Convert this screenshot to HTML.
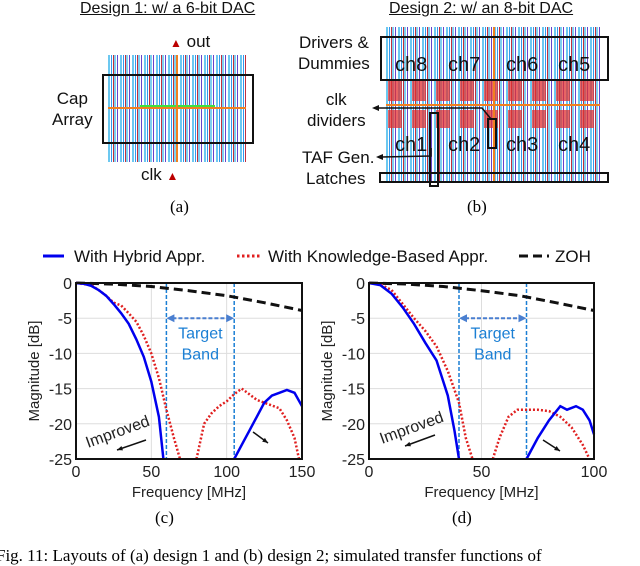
<!DOCTYPE html>
<html><head><meta charset="utf-8"><style>
body{margin:0;background:#fff;width:640px;height:562px;overflow:hidden;position:relative;font-family:"Liberation Sans",sans-serif}
.lay{position:absolute;background:repeating-linear-gradient(90deg,#6cc8f0 0 2px,#fff 2px 3px,#3399ee 3px 4px,#fff 4px 5px,#c03040 5px 6px,#7fd0f0 6px 8px,#fff 8px 9px,#6644cc 9px 10px,#fff 10px 12px)}
.box{position:absolute;border:2px solid #111}
.t{position:absolute;font-size:17px;color:#111;line-height:21px;text-align:center;white-space:nowrap}
.u{position:absolute;font-size:16px;text-decoration:underline;color:#111;white-space:nowrap}
.cap{position:absolute;font-family:"Liberation Serif",serif;font-size:17px}
.ch{position:absolute;font-size:20px;color:#111}
.red{position:absolute;background:repeating-linear-gradient(90deg,#e03030 0 14px,transparent 14px 24px);opacity:.75}
</style></head><body>
<div class="u" style="left:80px;top:0px">Design 1: w/ a 6-bit DAC</div>
<div class="u" style="left:389px;top:0px">Design 2: w/ an 8-bit DAC</div>

<div class="lay" style="left:108px;top:55px;width:138px;height:107px"></div>
<div style="position:absolute;left:108px;top:107px;width:138px;height:2px;background:#f08020"></div>
<div style="position:absolute;left:140px;top:105px;width:75px;height:2px;background:#40e040"></div>
<div style="position:absolute;left:176px;top:55px;width:2px;height:107px;background:#f08020"></div>
<div class="box" style="left:102px;top:74px;width:148px;height:66px"></div>
<div class="t" style="left:52px;top:88px;line-height:21px">Cap<br>Array</div>
<div class="t" style="left:170px;top:31px;text-align:left"><span style="color:#b00;font-size:12px">▲</span> out</div>
<div class="t" style="left:141px;top:164px;text-align:left">clk <span style="color:#b00;font-size:12px">▲</span></div>
<div class="cap" style="left:170px;top:197px">(a)</div>

<div class="lay" style="left:386px;top:27px;width:214px;height:155px"></div>
<div class="red" style="left:388px;top:80px;width:212px;height:21px"></div>
<div class="red" style="left:388px;top:110px;width:212px;height:18px"></div>
<div style="position:absolute;left:386px;top:104px;width:214px;height:2px;background:#f08020"></div>
<div style="position:absolute;left:493px;top:27px;width:2px;height:155px;background:#f08020"></div>
<div class="box" style="left:380px;top:36px;width:225px;height:41px"></div>
<div class="box" style="left:379px;top:172px;width:226px;height:7px"></div>
<div class="box" style="left:429px;top:112px;width:6px;height:71px"></div>
<div class="box" style="left:487px;top:118px;width:6px;height:27px"></div>
<div class="t" style="left:298px;top:32px;line-height:21px">Drivers &amp;<br>Dummies</div>
<div class="t" style="left:307px;top:89px;line-height:21px">clk<br>dividers</div>
<div class="t" style="left:302px;top:147px">TAF Gen.</div>
<div class="t" style="left:306px;top:168px">Latches</div>
<div class="ch" style="left:395px;top:54px">ch8</div>
<div class="ch" style="left:448px;top:54px">ch7</div>
<div class="ch" style="left:506px;top:54px">ch6</div>
<div class="ch" style="left:558px;top:54px">ch5</div>
<div class="ch" style="left:395px;top:134px">ch1</div>
<div class="ch" style="left:448px;top:134px">ch2</div>
<div class="ch" style="left:506px;top:134px">ch3</div>
<div class="ch" style="left:558px;top:134px">ch4</div>
<div class="cap" style="left:467px;top:197px">(b)</div>
<svg width="640" height="562" style="position:absolute;left:0;top:0" id="svg">
 <g stroke="#111" stroke-width="1.5" fill="none">
  <path d="M491 119 L482 108 L376 108" />
  <path d="M431 148 L431 156 L380 157"/>
 </g>
 <polygon points="372,108 379,105 379,111" fill="#111"/>
 <polygon points="376,157 383,154 383,160" fill="#111"/>
</svg>
<div class="cap" style="left:155px;top:508px">(c)</div>
<div class="cap" style="left:452px;top:508px">(d)</div>
<div class="cap" style="left:-4px;top:546px;white-space:nowrap">Fig. 11: Layouts of (a) design 1 and (b) design 2; simulated transfer functions of</div>
<script>
const xTicks1=[0,50,100,150];
const xTicks2=[0,50,100];
const yTicks=[0,-5,-10,-15,-20,-25];
const hyb1a=[[0,0],[5,-0.1],[10,-0.4],[15,-1],[20,-1.8],[25,-3],[30,-4.3],[35,-5.8],[40,-8],[45,-10.5],[50,-14],[55,-19],[58,-25]];
const hyb1b=[[105,-25],[110,-23],[115,-21],[120,-19],[125,-17],[130,-16],[135,-15.6],[140,-15.2],[145,-15.6],[150,-17.5]];
const kb1a=[[0,0],[10,-0.3],[15,-1],[20,-1.8],[25,-2.8],[30,-3.2],[35,-4.3],[40,-5.5],[45,-7.5],[50,-10],[55,-13.5],[60,-18],[65,-22],[69,-25]];
const kb1b=[[80,-25],[85,-20],[90,-18.5],[95,-17.5],[100,-16.8],[105,-15.8],[110,-15],[115,-15.8],[120,-16.6],[125,-17],[130,-17.4],[135,-17.8],[140,-19.5],[145,-22],[148,-25]];
const zoh1=[[0,0],[25,-0.15],[50,-0.5],[75,-1.1],[100,-1.8],[125,-2.8],[150,-3.9]];
const band1=[60,105];
const hyb2a=[[0,0],[5,-0.3],[10,-1.5],[15,-3.5],[20,-5.8],[25,-8.5],[30,-11],[35,-16],[38,-21],[40,-25]];
const hyb2b=[[70,-25],[75,-22],[80,-19.5],[85,-17.5],[88,-18],[92,-17.5],[95,-18],[98,-19.5],[100,-21.5]];
const kb2a=[[0,0],[5,-0.2],[10,-1],[15,-3],[20,-5],[25,-6.8],[30,-9],[35,-12.5],[40,-17],[43,-22],[46,-25]];
const kb2b=[[55,-25],[58,-22],[62,-19],[66,-18],[70,-18],[75,-18],[80,-18.2],[85,-19],[90,-20.5],[95,-23],[98,-25]];
const zoh2=[[0,0],[17,-0.15],[33,-0.5],[50,-1.1],[67,-1.8],[83,-2.8],[100,-3.9]];
const band2=[40,70];
const NS='http://www.w3.org/2000/svg';
const svg=document.getElementById('svg');
function mk(tag,attrs,parent,text){const e=document.createElementNS(NS,tag);for(const k in attrs)e.setAttribute(k,attrs[k]);if(text!==undefined)e.textContent=text;(parent||svg).appendChild(e);return e;}
function chart(id,x0,x1,xmax,xt,series,band,impr){
 const y0=283,y1=459;
 const X=v=>x0+v/xmax*(x1-x0), Y=v=>y0+(-v)/25*(y1-y0);
 const g=mk('g',{});
 
 
 xt.forEach(t=>{mk('line',{x1:X(t),x2:X(t),y1:y0,y2:y1,stroke:'#ddd'},g);
  const l=mk('text',{x:X(t),y:477,'font-size':16,'text-anchor':'middle',fill:'#222'},g,t);
  
  });
 yTicks.forEach(t=>{mk('line',{x1:x0,x2:x1,y1:Y(t),y2:Y(t),stroke:'#ddd'},g);
  const l=mk('text',{x:x0-4,y:Y(t)+6,'font-size':16,'text-anchor':'end',fill:'#222'},g,t);
  
  });
 const pts=a=>a.map(p=>X(p[0]).toFixed(1)+','+Y(p[1]).toFixed(1)).join(' ');
 band.forEach(b=>{const l=mk('line',{x1:X(b),x2:X(b),y1:y0,y2:y1,stroke:'#1b7fd4','stroke-width':1.5,'stroke-dasharray':'4,2'},g);
  
  });
 const ar=mk('line',{x1:X(band[0])+6,x2:X(band[1])-6,y1:Y(-5),y2:Y(-5),stroke:'#4a7fd0','stroke-width':2,'stroke-dasharray':'4,2'},g);
 
 
 mk('polygon',{points:`${X(band[0])},${Y(-5)} ${X(band[0])+8},${Y(-5)-4} ${X(band[0])+8},${Y(-5)+4}`,fill:'#4a7fd0'},g);
 mk('polygon',{points:`${X(band[1])},${Y(-5)} ${X(band[1])-8},${Y(-5)-4} ${X(band[1])-8},${Y(-5)+4}`,fill:'#4a7fd0'},g);
 const cx=(X(band[0])+X(band[1]))/2;
 const tt=mk('text',{x:cx,y:Y(-7)+6,'font-size':16,'text-anchor':'middle',fill:'#1b7fd4'},g,'Target');
 
 
 mk('text',{x:cx,y:Y(-10)+6,'font-size':16,'text-anchor':'middle',fill:'#1b7fd4'},g,'Band');
 series.forEach(s=>{const p=mk('polyline',{points:pts(s.d),fill:'none',stroke:s.c,'stroke-width':s.w,'stroke-dasharray':s.da||'none'},g);
  
  });
 const it=mk('text',{x:impr[0],y:impr[1],'font-size':16,fill:'#222',transform:`rotate(-20 ${impr[0]} ${impr[1]})`},g,'Improved');
 
 
 impr[2].forEach(a=>{mk('line',{x1:a[0],y1:a[1],x2:a[2],y2:a[3],stroke:'#111','stroke-width':1.5},g);
  const ang=Math.atan2(a[3]-a[1],a[2]-a[0]);const L=6;
  mk('polygon',{points:`${a[2]},${a[3]} ${a[2]-L*Math.cos(ang-0.4)},${a[3]-L*Math.sin(ang-0.4)} ${a[2]-L*Math.cos(ang+0.4)},${a[3]-L*Math.sin(ang+0.4)}`,fill:'#111'},g);});
 mk('rect',{x:x0,y:y0,width:x1-x0,height:y1-y0,fill:'none',stroke:'#111','stroke-width':2},g);
 const xl=mk('text',{x:(x0+x1)/2,y:497,'font-size':15,'text-anchor':'middle',fill:'#222'},g,'Frequency [MHz]');
 
 
 const yl=mk('text',{x:0,y:0,'font-size':15,'text-anchor':'middle',fill:'#222',transform:`translate(${x0-37},${(y0+y1)/2}) rotate(-90)`},g,'Magnitude [dB]');
 
 
}
chart('chart-c',76,302,150,xTicks1,[
 {d:zoh1,c:'#111',w:3,da:'9,5',n:'zoh-line'},
 {d:kb1a,c:'#e02020',w:2.5,da:'2,2',n:'knowledge-line'},{d:kb1b,c:'#e02020',w:2.5,da:'2,2',n:'knowledge-line-high'},
 {d:hyb1a,c:'#0000ee',w:2.5,n:'hybrid-line'},{d:hyb1b,c:'#0000ee',w:2.5,n:'hybrid-line-high'}],band1,
 [88,448,[[146,440,117,450],[253,432,268,443]]]);
chart('chart-d',369,594,100,xTicks2,[
 {d:zoh2,c:'#111',w:3,da:'9,5',n:'zoh-line'},
 {d:kb2a,c:'#e02020',w:2.5,da:'2,2',n:'knowledge-line'},{d:kb2b,c:'#e02020',w:2.5,da:'2,2',n:'knowledge-line-high'},
 {d:hyb2a,c:'#0000ee',w:2.5,n:'hybrid-line'},{d:hyb2b,c:'#0000ee',w:2.5,n:'hybrid-line-high'}],band2,
 [382,444,[[435,435,405,446],[543,440,560,451]]]);
const lg=mk('g',{});


mk('line',{x1:43,x2:64,y1:256,y2:256,stroke:'#0000ee','stroke-width':3},lg);
mk('text',{x:74,y:262,'font-size':17,fill:'#111'},lg,'With Hybrid Appr.');
mk('line',{x1:237,x2:262,y1:256,y2:256,stroke:'#e02020','stroke-width':3,'stroke-dasharray':'2.5,2.5'},lg);
mk('text',{x:268,y:262,'font-size':17,fill:'#111'},lg,'With Knowledge-Based Appr.');
mk('line',{x1:519,x2:549,y1:256,y2:256,stroke:'#111','stroke-width':3,'stroke-dasharray':'9,5'},lg);
mk('text',{x:555,y:262,'font-size':17,fill:'#111'},lg,'ZOH');
</script>
</body></html>
